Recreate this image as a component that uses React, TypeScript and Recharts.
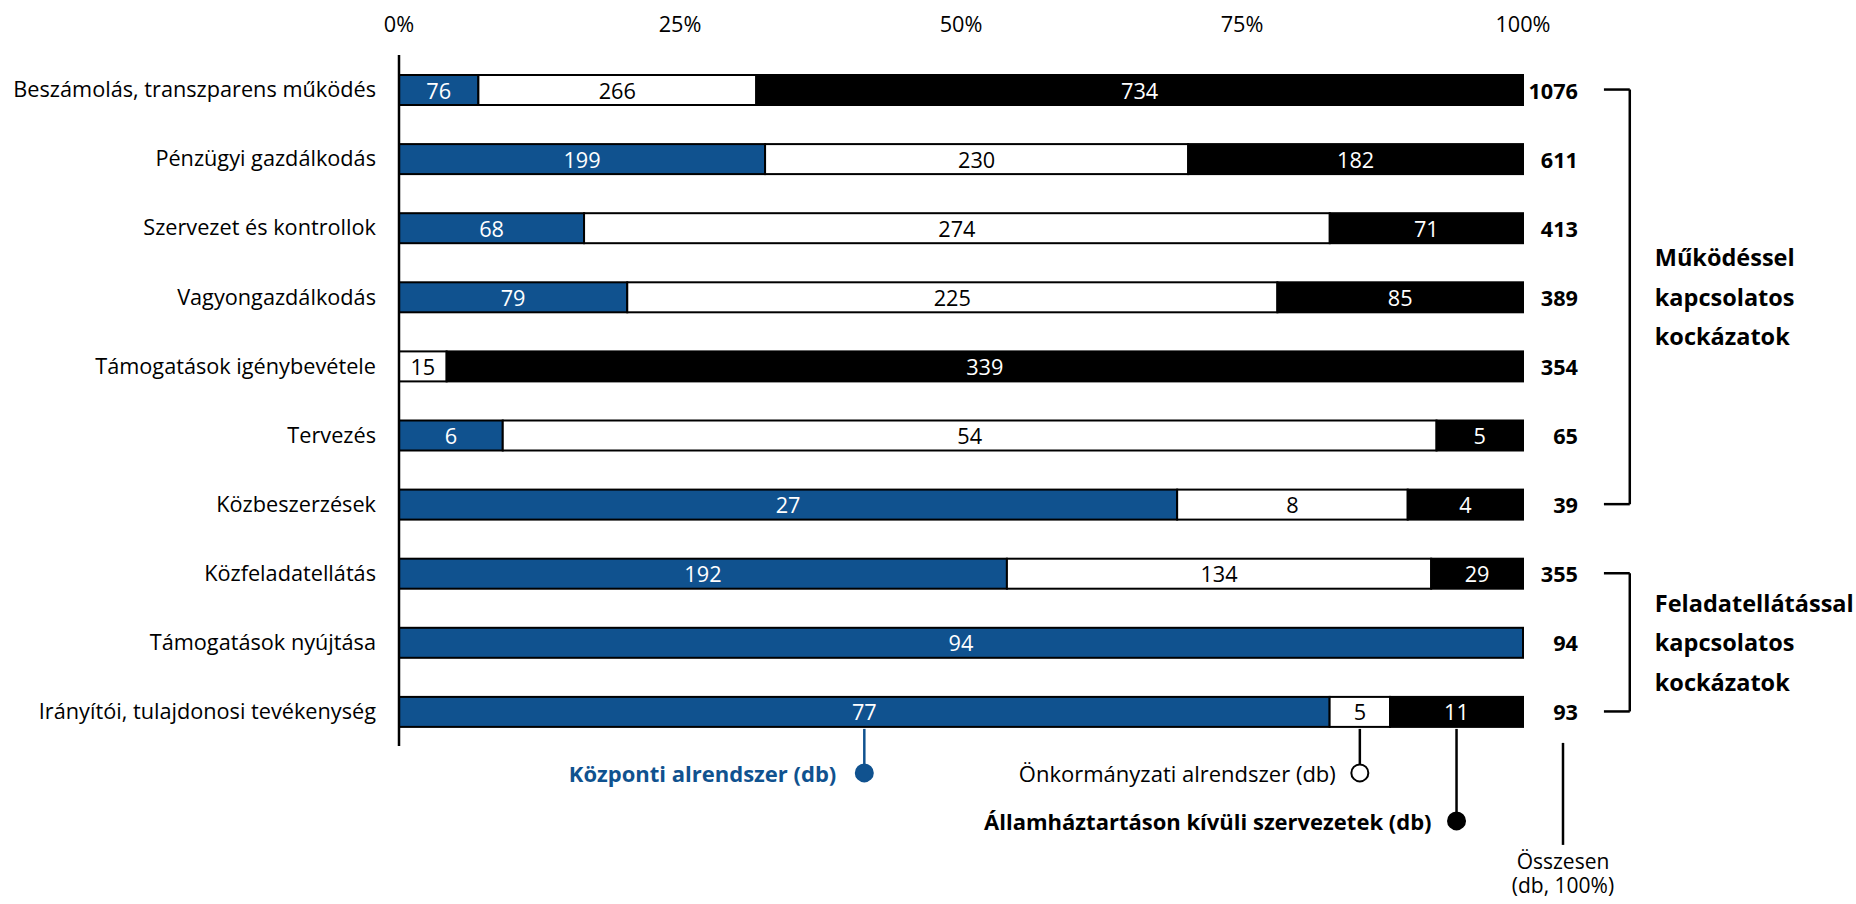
import { BarChart, Bar, XAxis, YAxis, LabelList, ReferenceLine } from 'recharts';

const categories = [
  'Beszámolás, transzparens működés',
  'Pénzügyi gazdálkodás',
  'Szervezet és kontrollok',
  'Vagyongazdálkodás',
  'Támogatások igénybevétele',
  'Tervezés',
  'Közbeszerzések',
  'Közfeladatellátás',
  'Támogatások nyújtása',
  'Irányítói, tulajdonosi tevékenység',
];
const kozponti = [76, 199, 68, 79, 0, 6, 27, 192, 94, 77];
const onkormanyzati = [266, 230, 274, 225, 15, 54, 8, 134, 0, 5];
const kivuli = [734, 182, 71, 85, 339, 5, 4, 29, 0, 11];
const totals = [1076, 611, 413, 389, 354, 65, 39, 355, 94, 93];
const xTicks = [0, 0.25, 0.5, 0.75, 1];
const seriesNames = [
  'Központi alrendszer (db)',
  'Önkormányzati alrendszer (db)',
  'Államháztartáson kívüli szervezetek (db)',
];
const totalTitle = ['Összesen', '(db, 100%)'];
const groupTitles = [
  ['Működéssel', 'kapcsolatos', 'kockázatok'],
  ['Feladatellátással', 'kapcsolatos', 'kockázatok'],
];
const groupRanges = [
  [0, 6],
  [7, 9],
];

const BLUE = '#10528f';
const FONT = '"Open Sans", sans-serif';
const FS = 21.7;
const LAST = categories[categories.length - 1];

const data = categories.map((name, i) => ({
  name,
  kozponti: kozponti[i],
  onkormanyzati: onkormanyzati[i],
  kivuli: kivuli[i],
  total: totals[i],
}));

// leader line + marker + text under the last row
const legendStyle = [
  { text: seriesNames[0], drop: 46, fill: BLUE, dotStroke: BLUE, color: BLUE, weight: 700, gap: 28 },
  { text: seriesNames[1], drop: 46, fill: '#fff', dotStroke: '#000', color: '#000', weight: 400, gap: 24 },
  { text: seriesNames[2], drop: 94, fill: '#000', dotStroke: '#000', color: '#000', weight: 700, gap: 25 },
];

const makeShape = (k: number) => (props: any) => {
  const { x, y, width, height, fill, payload } = props;
  if (!width || width <= 0) return <g />;
  const isLast = payload && payload.name === LAST;
  const lg = legendStyle[k];
  const cx = x + width / 2;
  const bottom = y + height;
  return (
    <g>
      <rect x={x} y={y} width={width} height={height} fill={fill} stroke="#000" strokeWidth={2} />
      {isLast && (
        <g>
          <line x1={cx} x2={cx} y1={bottom + 2} y2={bottom + lg.drop} stroke={lg.dotStroke} strokeWidth={2.5} />
          <circle cx={cx} cy={bottom + lg.drop} r={8.5} fill={lg.fill} stroke={lg.dotStroke} strokeWidth={2} />
          <text
            x={cx - lg.gap}
            y={bottom + lg.drop}
            textAnchor="end"
            dominantBaseline="central"
            fontFamily={FONT}
            fontSize={22}
            fontWeight={lg.weight}
            fill={lg.color}
          >
            {lg.text}
          </text>
        </g>
      )}
    </g>
  );
};

const renderValue = (color: string) => (props: any) => {
  const { x, y, width, height, value } = props;
  if (!value) return null;
  return (
    <text
      x={x + width / 2}
      y={y + height / 2}
      textAnchor="middle"
      dominantBaseline="central"
      fontFamily={FONT}
      fontSize={FS}
      fill={color}
    >
      {value}
    </text>
  );
};

const renderTotal = (props: any) => {
  const { x, y, width, height, value, index } = props;
  const end = x + width;
  const cy = y + height / 2;
  return (
    <g>
      <text
        x={end + 55}
        y={cy}
        textAnchor="end"
        dominantBaseline="central"
        fontFamily={FONT}
        fontSize={FS}
        fontWeight={700}
        fill="#000"
      >
        {value}
      </text>
      {index === categories.length - 1 && (
        <g>
          <line x1={end + 40} x2={end + 40} y1={cy + 31} y2={cy + 133} stroke="#000" strokeWidth={2.5} />
          {totalTitle.map((t, i) => (
            <text
              key={t}
              x={end + 40}
              y={cy + 149 + i * 24}
              textAnchor="middle"
              dominantBaseline="central"
              fontFamily={FONT}
              fontSize={21}
              fill="#000"
            >
              {t}
            </text>
          ))}
        </g>
      )}
    </g>
  );
};

const groupLabel = (lines: string[]) => (props: any) => {
  const vb = props.viewBox || {};
  const cy = vb.y + vb.height / 2;
  return (
    <g>
      {lines.map((t, i) => (
        <text
          key={i}
          x={vb.x + 25}
          y={cy + (i - 1) * 39.5}
          dominantBaseline="central"
          fontFamily={FONT}
          fontSize={23.5}
          fontWeight={700}
          fill="#000"
        >
          {t}
        </text>
      ))}
    </g>
  );
};

const BR_IN = 1.072;
const BR_OUT = 1.095;

export default function App() {
  return (
    <div style={{ position: 'absolute', left: 0, top: 0, width: 1856, height: 904, background: '#fff' }}>
      <BarChart
        width={1856}
        height={904}
        data={data}
        layout="vertical"
        stackOffset="expand"
        margin={{ top: 0, right: 333, bottom: 158, left: 0 }}
      >
        <XAxis
          type="number"
          orientation="top"
          domain={[0, 1]}
          ticks={xTicks}
          height={55}
          axisLine={false}
          tickLine={false}
          tickSize={0}
          tickMargin={23}
          tickFormatter={(v: number) => `${Math.round(v * 100)}%`}
          tick={{ fill: '#000', fontSize: FS, fontFamily: FONT }}
        />
        <YAxis
          type="category"
          dataKey="name"
          width={399}
          axisLine={{ stroke: '#000', strokeWidth: 2.5 }}
          tickLine={false}
          tickSize={0}
          tickMargin={23}
          interval={0}
          tick={{ fill: '#000', fontSize: FS, fontFamily: FONT }}
        />
        <Bar dataKey="kozponti" stackId="a" fill={BLUE} barSize={30} isAnimationActive={false} shape={makeShape(0)}>
          <LabelList dataKey="kozponti" content={renderValue('#fff')} />
        </Bar>
        <Bar dataKey="onkormanyzati" stackId="a" fill="#fff" barSize={30} isAnimationActive={false} shape={makeShape(1)}>
          <LabelList dataKey="onkormanyzati" content={renderValue('#000')} />
        </Bar>
        <Bar dataKey="kivuli" stackId="a" fill="#000" barSize={30} isAnimationActive={false} shape={makeShape(2)}>
          <LabelList dataKey="kivuli" content={renderValue('#fff')} />
          <LabelList dataKey="total" content={renderTotal} />
        </Bar>
        {groupRanges.map(([a, b], gi) => [
          <ReferenceLine
            key={`t${gi}`}
            ifOverflow="visible"
            stroke="#000"
            strokeWidth={2.5}
            segment={[{ x: BR_IN, y: categories[a] }, { x: BR_OUT, y: categories[a] }]}
          />,
          <ReferenceLine
            key={`v${gi}`}
            ifOverflow="visible"
            stroke="#000"
            strokeWidth={2.5}
            segment={[{ x: BR_OUT, y: categories[a] }, { x: BR_OUT, y: categories[b] }]}
            label={{ content: groupLabel(groupTitles[gi]) } as any}
          />,
          <ReferenceLine
            key={`b${gi}`}
            ifOverflow="visible"
            stroke="#000"
            strokeWidth={2.5}
            segment={[{ x: BR_IN, y: categories[b] }, { x: BR_OUT, y: categories[b] }]}
          />,
        ])}
      </BarChart>
    </div>
  );
}
